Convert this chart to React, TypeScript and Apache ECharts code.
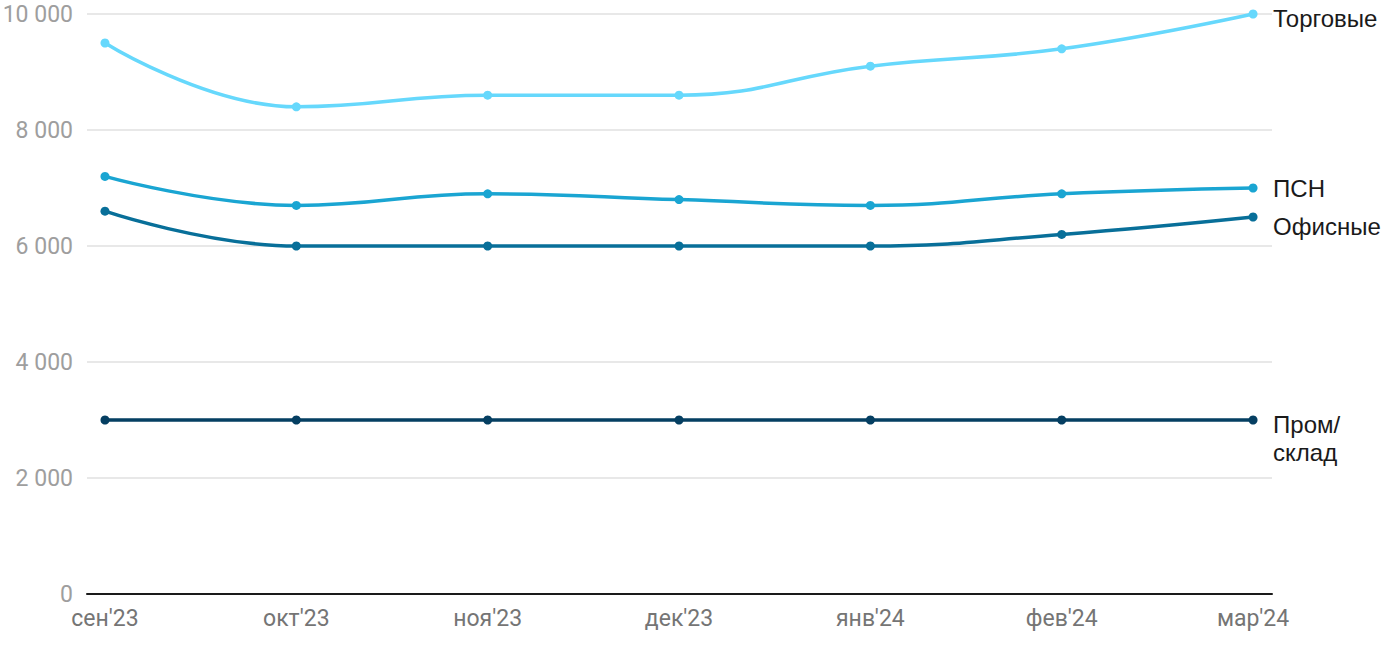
import React, { useEffect, useRef } from "react";
import * as echarts from "echarts";

const categories = ["сен'23", "окт'23", "ноя'23", "дек'23", "янв'24", "фев'24", "мар'24"];
const torgovye = [9500, 8400, 8600, 8600, 9100, 9400, 10000];
const psn = [7200, 6700, 6900, 6800, 6700, 6900, 7000];
const ofisnye = [6600, 6000, 6000, 6000, 6000, 6200, 6500];
const promsklad = [3000, 3000, 3000, 3000, 3000, 3000, 3000];
const yTicks = [0, 2000, 4000, 6000, 8000, 10000];

const toPairs = (arr: number[]) => arr.map((v, i) => [i, v]);

const fmt = (v: number) => String(v).replace(/\B(?=(\d{3})+(?!\d))/g, " ");

export default function App() {
  const ref = useRef<HTMLDivElement>(null);
  useEffect(() => {
    if (!ref.current) return;
    const chart = echarts.init(ref.current, undefined, { renderer: "svg" });
    const mk = (name: string, data: number[], color: string, label: string, offset: number[]) => ({
      name,
      type: "line",
      data: toPairs(data),
      smooth: 0.45,
      symbol: "circle",
      symbolSize: 9,
      lineStyle: { width: 3.5, color },
      itemStyle: { color },
      endLabel: {
        show: true,
        formatter: label,
        color: "#1a1a1a",
        fontSize: 24,
        lineHeight: 28,
        fontFamily: "Liberation Sans, Arial, sans-serif",
        distance: 20,
        offset,
      },
    });
    chart.setOption({
      animation: false,
      grid: { left: 87, right: 128, top: 14, bottom: 56, containLabel: false, outerBoundsMode: "none" },
      xAxis: {
        type: "value",
        min: -0.094,
        max: 6.099,
        axisLine: { show: true, lineStyle: { color: "#1a1a1a", width: 2 } },
        axisTick: { show: false },
        splitLine: { show: false },
        axisLabel: {
          customValues: categories.map((_, i) => i),
          formatter: (v: number) => categories[Math.round(v)] ?? "",
          color: "#757575",
          fontSize: 23,
          fontFamily: "Roboto, sans-serif",
          margin: 13,
          showMinLabel: true,
          showMaxLabel: true,
        },
      },
      yAxis: {
        type: "value",
        min: 0,
        max: 10000,
        interval: 2000,
        axisLine: { show: false },
        axisTick: { show: false },
        splitLine: { show: true, lineStyle: { color: "#e0e0e0", width: 1.5 } },
        axisLabel: {
          customValues: yTicks,
          formatter: (v: number) => fmt(v),
          color: "#9e9e9e",
          fontSize: 23,
          fontFamily: "Roboto, sans-serif",
          margin: 14,
          showMaxLabel: true,
        },
      },
      series: [
        mk("Торговые", torgovye, "#66d8fc", "Торговые", [0, 4]),
        mk("ПСН", psn, "#1aa5d2", "ПСН", [0, 0]),
        mk("Офисные", ofisnye, "#086f99", "Офисные", [0, 9]),
        mk("Пром/склад", promsklad, "#053f62", "Пром/\nсклад", [0, 18]),
      ],
    });
    return () => chart.dispose();
  }, []);
  return <div ref={ref} style={{ position: "absolute", left: 0, top: 0, width: 1400, height: 650 }} />;
}
